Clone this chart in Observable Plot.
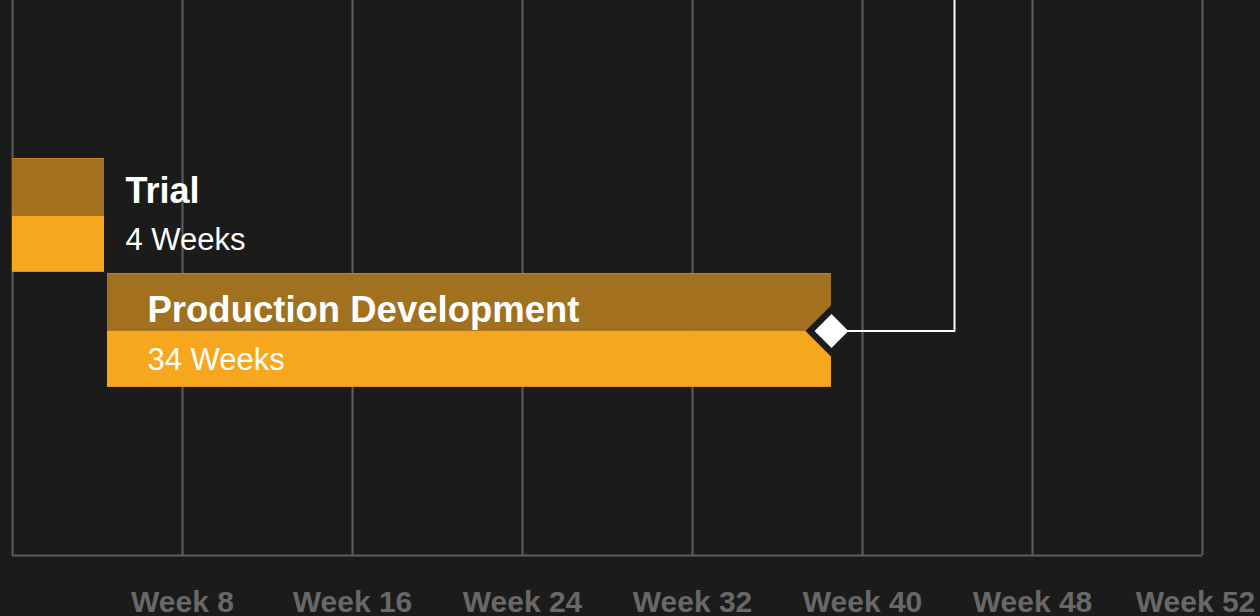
<!DOCTYPE html>
<html>
<head>
<meta charset="utf-8">
<script src="https://cdn.jsdelivr.net/npm/d3@7"></script>
<script src="https://cdn.jsdelivr.net/npm/@observablehq/plot@0.6"></script>
<style>
  html, body { margin: 0; padding: 0; background: #1b1b1b; }
  #chart svg { display: block; background: #1b1b1b; font-family: "Liberation Sans", Arial, Helvetica, sans-serif; }
</style>
</head>
<body>
<div id="chart"></div>
<script>
// ---- data ----
const tasks = ["Trial", "Production Development"];
const starts = [0, 4.47];          // weeks
const ends = [4.33, 38.54];        // weeks
const durations = ["4 Weeks", "34 Weeks"];
const weekTicks = [8, 16, 24, 32, 40, 48];
const lastTick = [52];
const gridWeeks = [0, 8, 16, 24, 32, 40, 48, 52];
const milestoneWeek = 38.54;       // end of Production Development
const calloutWeek = 44.33;         // connector to callout above

// ---- styles ----
const darkColor = "#a1711f";
const brightColor = "#f6a71d";
const gridColor = "#5e5e5e";
const bg = "#1b1b1b";

const rows = tasks.map((t, i) => ({task: t, row: i, start: starts[i], end: ends[i], duration: durations[i]}));
const yTop = -1.374, yBottom = 3.452;
const prod = rows[1];
const connector = [
  {x: milestoneWeek, y: prod.row + 0.5},
  {x: calloutWeek, y: prod.row + 0.5},
  {x: calloutWeek, y: yTop}
];
const inside = rows.filter(d => d.end - d.start >= 10);
const outside = rows.filter(d => d.end - d.start < 10);

// the last interval (week 48 -> 52) is drawn as wide as an 8-week interval
const stretch = d => (d <= 48 ? d : 48 + (d - 48) * 2);

const chart = Plot.plot({
  width: 1260,
  height: 616,
  marginTop: 0,
  marginBottom: 61,
  marginLeft: 12,
  marginRight: 58,
  style: {background: bg, fontFamily: '"Liberation Sans", Arial, sans-serif'},
  x: {domain: [0, 56], range: [12, 1202], transform: stretch},
  y: {domain: [yTop, yBottom], reverse: true, axis: null},
  marks: [
    Plot.ruleX(gridWeeks, {stroke: gridColor, strokeWidth: 2}),
    Plot.ruleY([yBottom], {x1: 0, x2: 52, stroke: gridColor, strokeWidth: 2}),
    Plot.rect(rows, {x1: "start", x2: "end", y1: d => d.row, y2: d => d.row + 0.5, fill: darkColor}),
    Plot.rect(rows, {x1: "start", x2: "end", y1: d => d.row + 0.5, y2: d => d.row + 0.99, fill: brightColor}),
    Plot.ruleY(rows, {x1: "start", x2: "end", y: "row", stroke: "#c4841c", strokeWidth: 1}),
    Plot.dot([connector[0]], {x: "x", y: "y", symbol: "diamond2", r: 23.4, fill: bg}),
    Plot.line(connector, {x: "x", y: "y", stroke: "white", strokeWidth: 2}),
    Plot.dot([connector[0]], {x: "x", y: "y", symbol: "diamond2", r: 15.3, fill: "white"}),
    // labels inside long bars
    Plot.text(inside, {x: "start", y: d => d.row + 0.5, text: "task", dx: 40, dy: -9, lineAnchor: "bottom",
      textAnchor: "start", fill: "white", fontSize: 36.5, fontWeight: "bold"}),
    Plot.text(inside, {x: "start", y: d => d.row + 0.5, text: "duration", dx: 40, dy: 39, lineAnchor: "bottom",
      textAnchor: "start", fill: "white", fontSize: 31}),
    // labels beside short bars
    Plot.text(outside, {x: "end", y: d => d.row + 0.5, text: "task", dx: 21, dy: -13, lineAnchor: "bottom",
      textAnchor: "start", fill: "white", fontSize: 36, fontWeight: "bold"}),
    Plot.text(outside, {x: "end", y: d => d.row + 0.5, text: "duration", dx: 21, dy: 34, lineAnchor: "bottom",
      textAnchor: "start", fill: "white", fontSize: 31}),
    Plot.axisX(weekTicks, {tickSize: 0, tickPadding: 35, tickFormat: d => `Week ${d}`, label: null,
      color: "#686868", fontSize: 30, fontWeight: "bold"}),
    Plot.axisX(lastTick, {tickSize: 0, tickPadding: 35, tickFormat: d => `Week ${d}`, label: null,
      color: "#686868", fontSize: 30, fontWeight: "bold", dx: -7})
  ]
});
document.getElementById("chart").appendChild(chart);
</script>
</body>
</html>
